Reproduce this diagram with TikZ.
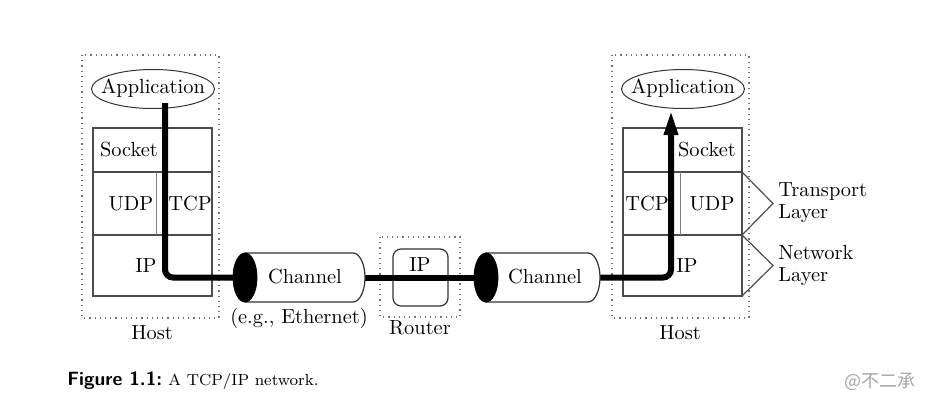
\documentclass[tikz,border=0pt]{standalone}
\usepackage{fontspec}
\newfontfamily\cjk{Noto Sans CJK SC}
\usetikzlibrary{shapes.geometric,arrows.meta}
\begin{document}
\begin{tikzpicture}[x=0.5pt,y=-0.5pt,font=\fontsize{10.2}{11}\selectfont,
  hostbox/.style={draw=black!55,dotted,line width=0.6pt},
  layer/.style={draw=black!70,line width=0.6pt},
  divider/.style={draw=black!50,line width=0.5pt},
  app/.style={ellipse,draw=black!80,line width=0.5pt,minimum width=61.5pt,minimum height=19.5pt,inner sep=0pt},
  cylbody/.style={fill=white,draw=black!80,line width=0.6pt},
  cylend/.style={ellipse,fill=black,draw=black,minimum width=12pt,minimum height=24.5pt,inner sep=0pt},
  flow/.style={line width=3pt,rounded corners=4pt},
  lbl/.style={inner sep=0pt}]
\useasboundingbox (0,0) rectangle (936,412);

% ---------- left host ----------
\draw[hostbox] (82,55) rectangle (219,318);
\draw[layer] (93,128) rectangle (212,296);
\draw[layer] (93,172) -- (212,172);
\draw[layer] (93,235) -- (212,235);
\draw[divider] (156,172) -- (156,235);
\node[app] (appL) at (153,89) {};
\node[lbl] (appLt) at (153,88) {Application};
\node[lbl] (sockL) at (129,150) {Socket};
\node[lbl] (udpL) at (131,204) {UDP};
\node[lbl] (tcpL) at (190,204) {TCP};
\node[lbl] (ipL) at (146,266) {IP};
\node[lbl] (hostL) at (152,333) {Host};

% ---------- router ----------
\draw[hostbox] (380,237) rectangle (460,317);
\node[draw=black!80,line width=0.6pt,rounded corners=4pt,minimum width=27.5pt,minimum height=28.5pt,inner sep=0pt] (rbox) at (420.5,277.5) {};
\node[lbl] (ipR) at (420,265) {IP};
\node[lbl] (router) at (420,328) {Router};

% ---------- right host ----------
\draw[hostbox] (612,55) rectangle (749,318);
\draw[layer] (623,128) rectangle (742,296);
\draw[layer] (623,172) -- (742,172);
\draw[layer] (623,235) -- (742,235);
\draw[divider] (680,172) -- (680,235);
\node[app] (appR) at (683,89) {};
\node[lbl] (appRt) at (683,88) {Application};
\node[lbl] (sockR) at (707,150) {Socket};
\node[lbl] (tcpR) at (647,204) {TCP};
\node[lbl] (udpR) at (712,204) {UDP};
\node[lbl] (ipRR) at (687,266) {IP};
\node[lbl] (hostR) at (680,333) {Host};

% layer brackets
\draw[layer] (742,172) -- (773,203.5) -- (742,235);
\draw[layer] (742,235) -- (773,265.5) -- (742,296);
\node[lbl,anchor=west,align=left] (transp) at (778,203) {Transport\\Layer};
\node[lbl,anchor=west,align=left] (netw) at (778,266) {Network\\Layer};

% ---------- data path ----------
\coordinate (c1) at (245,277.5);
\coordinate (c2) at (486,277.5);
\coordinate (sL) at (165,103);
\coordinate (kL) at (165,277.5);
\coordinate (kR) at (671,277.5);
\coordinate (tip) at (671,110);
\draw[flow] (sL) -- (kL) -- (c1);
\draw[flow] (c1) -- (c2);
\draw[flow,-{Triangle[length=12.5pt,width=6.5pt]}] (c2) -- (kR) -- (tip);

% ---------- channels ----------
\draw[cylbody] (245,253) -- (353,253) arc[start angle=-90,end angle=90,x radius=12,y radius=24.5] -- (245,302) -- cycle;
\node[cylend] (ch1) at (c1) {};
\node[lbl] (ch1t) at (305,277) {Channel};
\node[lbl] (eth) at (299,318) {(e.g., Ethernet)};

\draw[cylbody] (486,253) -- (588,253) arc[start angle=-90,end angle=90,x radius=12,y radius=24.5] -- (486,302) -- cycle;
\node[cylend] (ch2) at (c2) {};
\node[lbl] (ch2t) at (545,277) {Channel};

% ---------- caption ----------
\node[lbl,anchor=base west] (figno) at (67,385) {\fontsize{9.6}{11}\selectfont\sffamily\bfseries Figure 1.1:};
\node[lbl,anchor=base west] (figcap) at (168,385) {\fontsize{8}{10}\selectfont A TCP/IP network.};
\node[lbl,text=black!35] (wm) at (880,382) {\cjk\fontsize{9}{11}\selectfont @不二承};
\end{tikzpicture}
\end{document}
